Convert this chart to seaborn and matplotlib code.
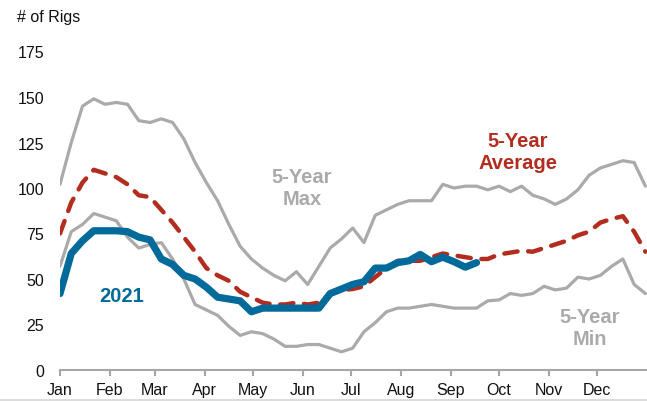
import matplotlib
matplotlib.use("Agg")
import matplotlib.pyplot as plt
import seaborn as sns
import numpy as np
import pandas as pd
from matplotlib.patches import Rectangle

# Weekly rig counts (week index within the year)
max_5yr = [102, 125, 145, 149, 146, 147, 146, 137, 136, 138, 136, 127, 114, 103,
           93, 80, 68, 61, 56, 52, 49, 54, 47, 57, 67, 72, 78, 70, 85, 88, 91, 93,
           93, 93, 102, 100, 101, 101, 99, 101, 98, 101, 96, 94, 91, 94, 99, 107,
           111, 113, 115, 114, 101]
avg_5yr = [75, 92, 103, 110, 108, 106, 102, 96, 95, 88, 81, 73, 65, 56, 52, 49,
           43, 40, 37, 36, 36, 37, 36, 37, 42, 44, 44.5, 46, 51, 56, 60, 60, 60,
           62, 64, 63, 62, 61, 61, 63.5, 64.5, 65.5, 65, 67, 69, 71, 74, 76, 81,
           83, 84.5, 76, 65]
min_5yr = [57, 76, 80, 86, 84, 82, 73, 67, 69, 70, 61, 50, 36, 33, 30, 24, 19,
           21, 20, 17, 13, 13, 14, 14, 12, 10, 12, 21, 26, 32, 34, 34, 35, 36, 35,
           34, 34, 34, 38, 38.5, 42, 41, 42, 46, 44, 45, 51, 50, 52, 57, 61, 47, 42]
rigs_2021 = [42, 64, 71, 76.5, 76.5, 76.5, 76, 73, 71.5, 61, 58, 52, 50, 45.5,
             40, 39, 38, 32, 34, 34, 34, 34, 34, 34, 42, 44.5, 47, 48.5, 56, 56,
             59, 60, 63.5, 59.5, 62, 59.5, 56.5, 59]

month_labels = ["Jan", "Feb", "Mar", "Apr", "May", "Jun",
                "Jul", "Aug", "Sep", "Oct", "Nov", "Dec"]
month_start_day = [0, 31, 59, 90, 120, 151, 181, 212, 243, 273, 304, 334]
y_ticks = [0, 25, 50, 75, 100, 125, 150, 175]

GRAY = "#aaaaaa"
RED = "#b22d1f"
BLUE = "#006a9a"
AXIS_GRAY = "#a6a6a6"

sns.set_theme(style="white")
plt.rcParams["font.family"] = ["Liberation Sans", "DejaVu Sans"]

days_full = np.arange(len(max_5yr)) * 7
days_2021 = np.arange(len(rigs_2021)) * 7

fig = plt.figure(figsize=(6.47, 4.02), dpi=100)
ax = fig.add_axes([60 / 647, 1 - 371 / 402, 587 / 647, (371 - 52.5) / 402])

sns.lineplot(x=days_full, y=max_5yr, ax=ax, color=GRAY, linewidth=2.3)
sns.lineplot(x=days_full, y=min_5yr, ax=ax, color=GRAY, linewidth=2.3)
sns.lineplot(x=days_full, y=avg_5yr, ax=ax, color=RED, linewidth=3.2)
avg_line = ax.lines[-1]
avg_line.set_dashes([3.0, 2.4])
avg_line.set_dash_capstyle("round")
sns.lineplot(x=days_2021, y=rigs_2021, ax=ax, color=BLUE, linewidth=5.2,
             solid_joinstyle="round", solid_capstyle="round")

ax.set_xlim(0, 365)
ax.set_ylim(0, 175)
ax.set_xticks(month_start_day)
ax.set_xticklabels(month_labels)
ax.set_yticks(y_ticks)
ax.set_yticklabels([str(v) for v in y_ticks])
ax.set_xlabel("")
ax.set_ylabel("")

for side in ["top", "right", "left"]:
    ax.spines[side].set_visible(False)
ax.spines["bottom"].set_color(AXIS_GRAY)
ax.spines["bottom"].set_linewidth(1.5)

ax.tick_params(axis="x", which="both", bottom=True, length=4.5, width=1.5,
               color=AXIS_GRAY, direction="out", labelsize=11.5,
               labelcolor="#111111", pad=4)
ax.tick_params(axis="y", length=0, labelsize=11.5, labelcolor="#111111", pad=11.5)

# Series labels
ax.text(150.5, 100.5, "5-Year\nMax", color=GRAY, fontsize=14.5, fontweight="bold",
        ha="center", va="center", linespacing=1.2)
ax.text(284.8, 119.8, "5-Year\nAverage", color=RED, fontsize=14.5, fontweight="bold",
        ha="center", va="center", linespacing=1.2)
ax.text(329.6, 23.6, "5-Year\nMin", color=GRAY, fontsize=14.5, fontweight="bold",
        ha="center", va="center", linespacing=1.2)
ax.text(38.6, 41.2, "2021", color=BLUE, fontsize=14.5, fontweight="bold",
        ha="center", va="center")

fig.text(17 / 647, 1 - 22 / 402, "# of Rigs", fontsize=11.5, color="#111111",
         ha="left", va="baseline")

fig.patches.append(Rectangle((0, 0), 1, 2 / 402, transform=fig.transFigure,
                             facecolor="#dcdcdc", edgecolor="none"))

fig.savefig("out.png", dpi=100)
